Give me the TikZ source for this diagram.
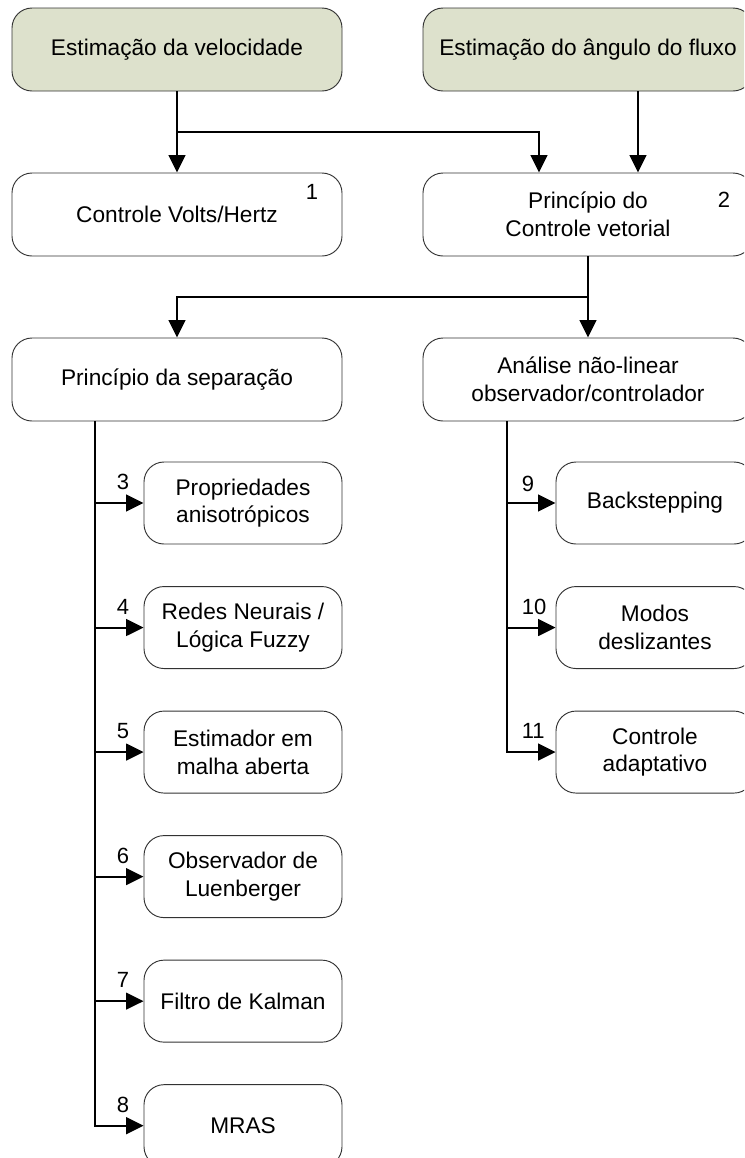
\documentclass[tikz,border=0pt]{standalone}
\usepackage{fontspec}
\setmainfont{Liberation Sans}
\usepackage{tikz}
\usetikzlibrary{arrows.meta, positioning, calc}
\definecolor{estfill}{RGB}{221, 225, 204}
\definecolor{boxline}{RGB}{50, 50, 50}

\begin{document}
\begin{tikzpicture}[x=0.75pt, y=-0.75pt, >={Triangle[length=13pt, width=12.5pt]},
  bigbox/.style={draw=boxline, line width=0.7pt, rounded corners=15pt,
    minimum width=247.5pt, minimum height=62.25pt, inner sep=0pt,
    align=center, font=\fontsize{17}{20.8}\selectfont},
  smallbox/.style={bigbox, minimum width=148.5pt, minimum height=61.5pt},
  estbox/.style={bigbox, fill=estfill},
  conn/.style={line width=1.5pt, black},
  num/.style={inner sep=0pt, font=\fontsize{16.5}{19}\selectfont}]

  \useasboundingbox (0,0) rectangle (744,1158);
  \clip (0,0) rectangle (744,1158);

  % --- estimation (top row) ---
  \node[estbox] (vel) at (177,49.5) {Estimação da velocidade};
  \node[estbox] (ang) at (588,49.5) {Estimação do ângulo do fluxo};

  % --- control principles ---
  \node[bigbox] (vh) at (177,214.5) {Controle Volts/Hertz};
  \node[bigbox] (cv) at (588,214.5) {Princípio do\\Controle vetorial};
  \node[num, anchor=north east] (n1) at ($(vh.north east)+(-24,12)$) {1};
  \node[num, anchor=north east] (n2) at ($(cv.north east)+(-23,19)$) {2};

  \node[bigbox] (sep) at (177,379.5) {Princípio da separação};
  \node[bigbox] (nl) at (588,379.5) {Análise não-linear\\observador/controlador};

  % --- separation principle branch ---
  \node[smallbox] (s3) at (243,503) {Propriedades\\anisotrópicos};
  \node[smallbox, below=31.2pt of s3] (s4) {Redes Neurais /\\Lógica Fuzzy};
  \node[smallbox, below=31.2pt of s4] (s5) {Estimador em\\malha aberta};
  \node[smallbox, below=31.2pt of s5] (s6) {Observador de\\Luenberger};
  \node[smallbox, below=31.2pt of s6] (s7) {Filtro de Kalman};
  \node[smallbox, below=31.2pt of s7] (s8) {MRAS};

  % --- nonlinear analysis branch ---
  \node[smallbox] (s9) at (655,503) {Backstepping};
  \node[smallbox, below=31.2pt of s9] (s10) {Modos\\deslizantes};
  \node[smallbox, below=31.2pt of s10] (s11) {Controle\\adaptativo};

  % --- top connectors ---
  \coordinate (j1) at ($(vel.south)!0.5!(vh.north)$);
  \draw[->, conn] (vel.south) -- (vh.north);
  \draw[->, conn] (j1) -| ($(cv.north)+(-49,0)$);
  \draw[->, conn] ($(ang.south)+(50,0)$) -- ($(cv.north)+(50,0)$);

  \coordinate (j2) at ($(cv.south)!0.5!(nl.north)$);
  \draw[->, conn] (cv.south) -- (nl.north);
  \draw[->, conn] (j2) -| (sep.north);

  % --- spines ---
  \coordinate (lsp) at ($(sep.south west)+(83,0)$);
  \coordinate (rsp) at ($(nl.south west)+(84,0)$);
  \draw[->, conn] (lsp) |- (s8.west);
  \draw[->, conn] (rsp) |- (s11.west);
  \foreach \b in {s3,s4,s5,s6,s7}
    \draw[->, conn] (lsp |- \b.west) -- (\b.west);
  \foreach \b in {s9,s10}
    \draw[->, conn] (rsp |- \b.west) -- (\b.west);

  % --- branch numbers ---
  \node[num, anchor=south west] (n3) at ($(lsp |- s3.west)+(22,-13)$) {3};
  \node[num, anchor=south west] (n4) at ($(lsp |- s4.west)+(22,-13)$) {4};
  \node[num, anchor=south west] (n5) at ($(lsp |- s5.west)+(22,-13)$) {5};
  \node[num, anchor=south west] (n6) at ($(lsp |- s6.west)+(22,-13)$) {6};
  \node[num, anchor=south west] (n7) at ($(lsp |- s7.west)+(22,-13)$) {7};
  \node[num, anchor=south west] (n8) at ($(lsp |- s8.west)+(22,-13)$) {8};
  \node[num, anchor=south west] (n9) at ($(rsp |- s9.west)+(15,-11)$) {9};
  \node[num, anchor=south west] (n10) at ($(rsp |- s10.west)+(15,-13)$) {10};
  \node[num, anchor=south west] (n11) at ($(rsp |- s11.west)+(15,-13)$) {11};

\end{tikzpicture}
\end{document}
